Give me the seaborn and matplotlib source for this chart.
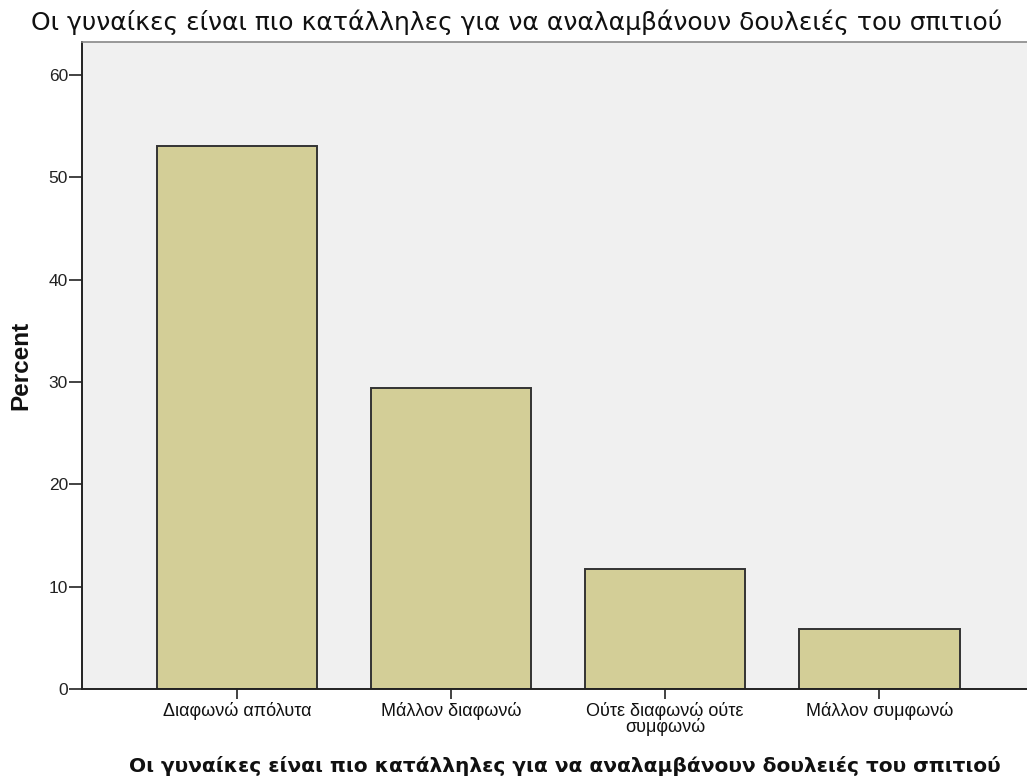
import matplotlib
matplotlib.use("Agg")
import matplotlib.pyplot as plt
import seaborn as sns
import pandas as pd

sns.set_style("white")
plt.rcParams['font.family'] = ['Liberation Sans', 'DejaVu Sans']

categories = ["Διαφωνώ απόλυτα", "Μάλλον διαφωνώ",
              "Ούτε διαφωνώ ούτε\nσυμφωνώ", "Μάλλον συμφωνώ"]
percent = [53.0, 29.4, 11.7, 5.9]
yticks = [0, 10, 20, 30, 40, 50, 60]
title = "Οι γυναίκες είναι πιο κατάλληλες για να αναλαμβάνουν δουλειές του σπιτιού"

df = pd.DataFrame({"cat": categories, "pct": percent})

fig = plt.figure(figsize=(10.27, 7.84), dpi=100)
ax = fig.add_axes([0.0798, 0.1212, 0.9202, 0.8252])
ax.set_facecolor("#F0F0F0")

sns.barplot(data=df, x="cat", y="pct", color="#D3CE97", saturation=1,
            width=0.75, edgecolor="#333333", linewidth=1.4, ax=ax)

ax.set_xlim(-0.724, 3.69)
ax.set_ylim(0, 63.2)
ax.set_yticks(yticks)
ax.tick_params(axis="y", direction="out", length=9.5, width=1.2, left=True,
               color="#222222", labelsize=12.5, pad=0.5, labelcolor="#222222")
ax.tick_params(axis="x", direction="out", length=7.5, width=1.2, bottom=True,
               color="#222222", labelsize=13, pad=2, labelcolor="#111111")
ax.set_xticks(range(len(categories)))
ax.set_xticklabels(categories, linespacing=0.85)

for side in ["left", "bottom"]:
    ax.spines[side].set_color("#222222")
    ax.spines[side].set_linewidth(1.4)
ax.spines["top"].set_color("#888888")
ax.spines["top"].set_linewidth(1.2)
ax.spines["right"].set_visible(False)

ax.set_ylabel("Percent", fontsize=17.5, fontweight="bold", labelpad=12,
              color="#111111")
ax.set_xlabel(title, fontsize=14.5, fontweight="bold",
              family="DejaVu Sans", color="#111111")
ax.xaxis.set_label_coords(0.5105, -0.104)
fig.text(0.503, 0.972, title, fontsize=18, ha="center", va="center",
         family="DejaVu Sans", color="#111111")

fig.savefig("out.png", dpi=100)
